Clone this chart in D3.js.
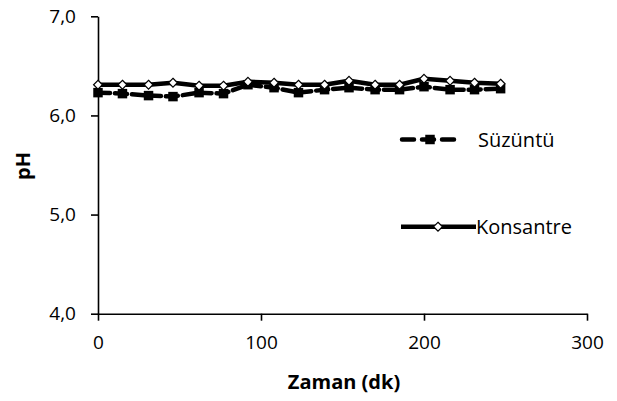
<!DOCTYPE html>
<html>
<head>
<meta charset="utf-8">
<script src="https://cdn.jsdelivr.net/npm/d3@7"></script>
<style>
  html, body { margin: 0; padding: 0; background: #fff; }
  svg { display: block; }
  text { font-family: "Open Sans", "Noto Sans", sans-serif; fill: #000; }
</style>
</head>
<body>
<svg id="chart" width="617" height="401"></svg>
<script>
// Sampling times (min) and measured pH values
const times = [0, 15, 31, 46, 62, 77, 92, 108, 123, 139, 154, 170, 185, 200, 216, 231, 247];
const suzuntu = [6.23, 6.22, 6.20, 6.19, 6.23, 6.22, 6.31, 6.28, 6.23, 6.26, 6.28, 6.26, 6.26, 6.29, 6.26, 6.26, 6.27];
const konsantre = [6.31, 6.31, 6.31, 6.33, 6.30, 6.30, 6.34, 6.33, 6.31, 6.31, 6.35, 6.31, 6.31, 6.37, 6.35, 6.33, 6.32];
const xTicks = [0, 100, 200, 300];
const yTicks = [4, 5, 6, 7];
const seriesNames = ["Süzüntü", "Konsantre"];

const svg = d3.select("#chart");

const x = d3.scaleLinear().domain([0, 300]).range([98, 587]);
const y = d3.scaleLinear().domain([4, 7]).range([313.7, 16.3]);

// Turkish number format: comma as decimal separator
const tr = d3.formatLocale({ decimal: ",", thousands: ".", grouping: [3], currency: ["", " TL"] });
const fmt1 = tr.format(".1f");

// Axes
const yAxis = svg.append("g")
  .attr("transform", `translate(${x(0)},0)`)
  .call(d3.axisLeft(y).tickValues(yTicks).tickFormat(fmt1).tickSize(7).tickSizeOuter(0).tickPadding(15));

const xAxis = svg.append("g")
  .attr("transform", `translate(0,${y(4)})`)
  .call(d3.axisBottom(x).tickValues(xTicks).tickFormat(d3.format("d")).tickSize(7).tickSizeOuter(0).tickPadding(15));

[xAxis, yAxis].forEach(g => {
  g.select(".domain").attr("stroke", "#000").attr("stroke-width", 1.6);
  g.selectAll(".tick line").attr("stroke", "#000").attr("stroke-width", 1.6);
  g.selectAll(".tick text").attr("font-size", 19).attr("fill", "#1a1a1a")
    .style("font-family", "'Open Sans', sans-serif");
});

// Axis titles
svg.append("text")
  .attr("x", 344).attr("y", 389)
  .attr("text-anchor", "middle")
  .attr("font-size", 20).attr("font-weight", "bold")
  .text("Zaman (dk)");

svg.append("text")
  .attr("transform", "translate(30,166) rotate(-90)")
  .attr("text-anchor", "middle")
  .attr("font-size", 20).attr("font-weight", "bold")
  .text("pH");

// Series data
const sData = times.map((t, i) => ({ t, v: suzuntu[i] }));
const kData = times.map((t, i) => ({ t, v: konsantre[i] }));

const line = d3.line().x(d => x(d.t)).y(d => y(d.v));

// Süzüntü: dashed line with filled square markers
svg.append("path")
  .datum(sData)
  .attr("d", line)
  .attr("fill", "none")
  .attr("stroke", "#000")
  .attr("stroke-width", 4.5)
  .attr("stroke-dasharray", "12,5")
  .attr("stroke-linecap", "round");

const square = d3.symbol().type(d3.symbolSquare).size(90);
const diamond = d3.symbol().type(d3.symbolDiamond2).size(50);

svg.append("g").selectAll("path")
  .data(sData)
  .join("path")
  .attr("d", square)
  .attr("transform", d => `translate(${x(d.t)},${y(d.v)})`)
  .attr("fill", "#000");

// Konsantre: solid line with white diamond markers
svg.append("path")
  .datum(kData)
  .attr("d", line)
  .attr("fill", "none")
  .attr("stroke", "#000")
  .attr("stroke-width", 4.5)
  .attr("stroke-linejoin", "round");

svg.append("g").selectAll("path")
  .data(kData)
  .join("path")
  .attr("d", diamond)
  .attr("transform", d => `translate(${x(d.t)},${y(d.v)})`)
  .attr("fill", "#fff")
  .attr("stroke", "#000")
  .attr("stroke-width", 1.2);

// Legend
const legend = svg.append("g");
const legY = [139.5, 226.7];

legend.append("line")
  .attr("x1", 402).attr("x2", 460).attr("y1", legY[0]).attr("y2", legY[0])
  .attr("stroke", "#000").attr("stroke-width", 4.5)
  .attr("stroke-dasharray", "12,8").attr("stroke-linecap", "round");
legend.append("path")
  .attr("d", square)
  .attr("transform", `translate(430,${legY[0]})`)
  .attr("fill", "#000");

legend.append("line")
  .attr("x1", 401).attr("x2", 476).attr("y1", legY[1]).attr("y2", legY[1])
  .attr("stroke", "#000").attr("stroke-width", 4.5);
legend.append("path")
  .attr("d", diamond)
  .attr("transform", `translate(438,${legY[1]})`)
  .attr("fill", "#fff").attr("stroke", "#000").attr("stroke-width", 1.2);

legend.selectAll("text.lbl")
  .data(seriesNames)
  .join("text")
  .attr("class", "lbl")
  .attr("x", (d, i) => i === 0 ? 478 : 476)
  .attr("y", (d, i) => legY[i])
  .attr("dy", "0.35em")
  .attr("font-size", 20)
  .attr("fill", "#1a1a1a")
  .text(d => d);
</script>
</body>
</html>
